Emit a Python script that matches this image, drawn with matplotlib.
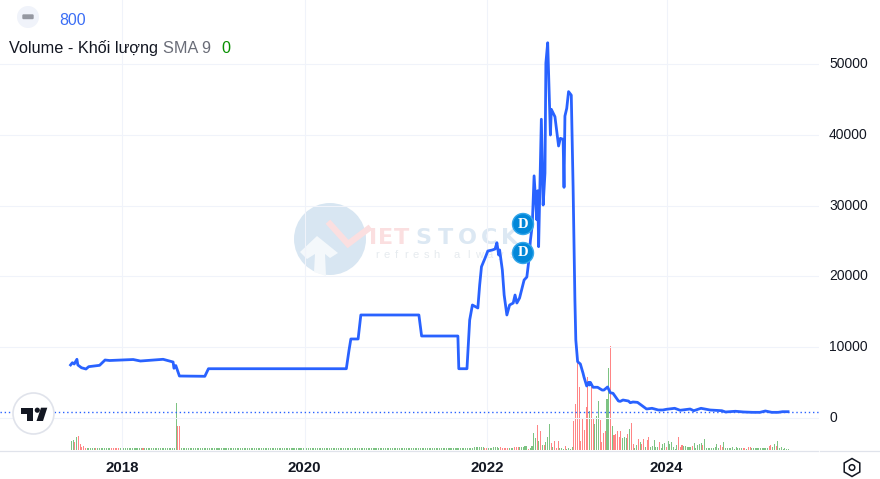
import numpy as np
import matplotlib
matplotlib.use('Agg')
import matplotlib.pyplot as plt
from matplotlib.patches import Circle, Polygon, RegularPolygon, FancyBboxPatch
from matplotlib.transforms import ScaledTranslation

plt.rcParams['font.family'] = ['Liberation Sans', 'DejaVu Sans']

# price line, decimal year / value
line_years = [2017.43, 2017.45, 2017.47, 2017.50, 2017.51, 2017.55, 2017.60, 2017.63, 2017.75, 2017.81,
              2017.86, 2018.12, 2018.20, 2018.45, 2018.56, 2018.57, 2018.59, 2018.63, 2018.91, 2018.95,
              2020.47, 2020.50, 2020.52, 2020.60, 2020.63, 2021.27, 2021.30, 2021.70, 2021.71, 2021.80,
              2021.83, 2021.86, 2021.92, 2021.94, 2021.96, 2022.00, 2022.03, 2022.08, 2022.11, 2022.13,
              2022.15, 2022.16, 2022.19, 2022.21, 2022.24, 2022.27, 2022.31, 2022.33, 2022.35, 2022.38,
              2022.43, 2022.46, 2022.48, 2022.50, 2022.52, 2022.54, 2022.57, 2022.58, 2022.59, 2022.62,
              2022.64, 2022.66, 2022.67, 2022.69, 2022.72, 2022.73, 2022.77, 2022.81, 2022.83, 2022.86,
              2022.87, 2022.88, 2022.90, 2022.92, 2022.95, 2022.97, 2022.99, 2023.00, 2023.02, 2023.05,
              2023.08, 2023.09, 2023.12, 2023.14, 2023.15, 2023.16, 2023.19, 2023.24, 2023.29, 2023.31,
              2023.35, 2023.38, 2023.41, 2023.47, 2023.49, 2023.52, 2023.58, 2023.60, 2023.63, 2023.68,
              2023.72, 2023.78, 2023.84, 2023.91, 2023.96, 2024.00, 2024.09, 2024.15, 2024.26, 2024.30,
              2024.38, 2024.48, 2024.61, 2024.65, 2024.76, 2024.85, 2024.95, 2025.03, 2025.09, 2025.16,
              2025.23, 2025.28, 2025.34]
line_values = [7490, 7810, 7630, 8290, 7490, 7100, 6920, 7250, 7440, 8190,
               8120, 8260, 8050, 8290, 7910, 7020, 7410, 5930, 5890, 6960,
               6960, 9600, 11160, 11160, 14550, 14550, 11580, 11580, 6960, 6960,
               13840, 15960, 15540, 18780, 21370, 22600, 23590, 23730, 23870, 24760,
               23020, 23730, 20900, 17370, 14550, 15960, 16240, 17370, 16240, 16950,
               19490, 19910, 22030, 25140, 27260, 34200, 28000, 32100, 24200, 42200,
               30080, 34600, 50140, 53000, 39970, 43600, 42550, 38420, 39500, 39360,
               32580, 42650, 43740, 46100, 45600, 32670, 16670, 11020, 7950, 7630,
               6310, 5790, 4520, 5040, 4660, 5040, 4340, 4340, 3950, 3950,
               4380, 3570, 3490, 2400, 2350, 2540, 2400, 2160, 2260, 2210,
               1840, 1270, 1370, 1130, 1130, 1230, 1370, 1090, 1270, 1030,
               1370, 1130, 1030, 850, 950, 850, 800, 800, 990, 800,
               800, 890, 890]
last_value = 800

# weekly volume, one row per half year
volumes = [
    9, 10, 8, 13, 14, 6, 3, 4, 2, 2, 2, 2, 2, 2, 2, 2, 2, 2, 2, 2, 2, 2, 2, 2, 2, 2,
    2, 2, 2, 2, 2, 2, 2, 2, 2, 2, 2, 2, 2, 2, 2, 2, 2, 2, 2, 2, 2, 2, 2, 2, 2, 2,
    2, 2, 2, 2, 2, 2, 2, 2, 47, 24, 24, 2, 2, 2, 2, 2, 2, 2, 2, 2, 2, 2, 2, 2, 2, 2,
    2, 2, 2, 2, 2, 2, 2, 2, 2, 2, 2, 2, 2, 2, 2, 2, 2, 2, 2, 2, 2, 2, 2, 2, 2, 2,
    2, 2, 2, 2, 2, 2, 2, 2, 2, 2, 2, 2, 2, 2, 2, 2, 2, 2, 2, 2, 2, 2, 2, 2, 2, 2,
    2, 2, 2, 2, 2, 2, 2, 2, 2, 2, 2, 2, 2, 2, 2, 2, 2, 2, 2, 2, 2, 2, 2, 2, 2, 2,
    2, 2, 2, 2, 2, 2, 2, 2, 2, 2, 2, 2, 2, 2, 2, 2, 2, 2, 2, 2, 2, 2, 2, 2, 2, 2,
    2, 2, 2, 2, 2, 2, 2, 2, 2, 2, 2, 2, 2, 2, 2, 2, 2, 2, 2, 2, 2, 2, 2, 2, 2, 2,
    2, 2, 2, 2, 2, 2, 2, 2, 2, 2, 2, 2, 2, 2, 2, 2, 2, 2, 2, 2, 2, 2, 2, 3, 3, 3,
    3, 3, 3, 2, 2, 2, 2, 2, 3, 3, 3, 2, 3, 2, 2, 2, 2, 2, 2, 2, 3, 3, 3, 3, 3, 3,
    4, 4, 1, 2, 4, 17, 12, 25, 9, 19, 5, 5, 8, 13, 26, 7, 3, 9, 2, 9, 2, 2, 1, 4, 1, 2,
    1, 3, 29, 46, 88, 63, 9, 31, 20, 43, 73, 39, 63, 31, 26, 34, 49, 30, 8, 17, 19, 51, 82, 104, 24, 15,
    16, 19, 13, 19, 12, 13, 12, 16, 21, 27, 6, 2, 5, 11, 8, 6, 11, 3, 10, 13, 3, 4, 10, 3, 3, 8,
    2, 6, 7, 3, 9, 6, 8, 3, 1, 5, 13, 3, 5, 4, 4, 3, 3, 3, 4, 7, 2, 5, 6, 7, 5, 11,
    2, 2, 2, 2, 2, 3, 6, 2, 5, 3, 8, 2, 2, 2, 2, 3, 1, 3, 2, 2, 2, 2, 2, 1, 3, 3,
    2, 2, 2, 2, 2, 2, 2, 2, 2, 2, 4, 5, 3, 6, 4, 9, 2, 3, 1, 2, 1, 1,
]
# g = up week, r = down week, same rows as volumes
vol_dirs = [
    'ggrgrrrrrgggggrggggggggrrr',
    'rrgggggggggggggrgggggggggg',
    'gggggggggrrggggggggggggggg',
    'gggggggggggggggggggggggggg',
    'gggggggggggggggggggggggggg',
    'gggggggggggggggggggggggggg',
    'gggggggggggggggggggggggggg',
    'gggggggggggggggggggggggggg',
    'gggggggggggggggggggggggggg',
    'gggrrgggggggrrrrrgggrrrggg',
    'ggrggggrgrgrgggrgrrrgggrgg',
    'ggrrrrrrrrrgrrgggrrrrggrgr',
    'rrrrgggrgrrggrgrrgrrgggggr',
    'gggrggggggrrrgggggrgggggrg',
    'ggggggggrrgggggggggggrrgrr',
    'ggggggggggrrggrggggggg',
]
vol_start = 2017.44
vol_step = 1 / 52

y_ticks = [0, 10000, 20000, 30000, 40000, 50000]
year_ticks = [2018, 2020.01, 2022.02, 2024]
year_labels = ['2018', '2020', '2022', '2024']

BLUE = '#2962ff'
GRID = '#f0f3fa'
DARK = '#131722'

fig = plt.figure(figsize=(8.8, 4.79), dpi=100, facecolor='white')
ax = fig.add_axes([0, 29 / 479, 819 / 880, 450 / 479])

# volume on its own hidden scale, under the price line
vol_ax = ax.twinx()
vol_ax.set_ylim(0, 450)
vol_ax.axis('off')
vol_ax.set_zorder(-0.5)
vol_x = vol_start + np.arange(len(volumes)) * vol_step
vol_colors = ['#7dc383' if d == 'g' else '#ff8585' for d in ''.join(vol_dirs)]
vol_ax.bar(vol_x, volumes, width=0.0115, color=vol_colors, linewidth=0)

ax.set_xlim(2016.652, 2025.681)
ax.set_ylim(-4520, 59040)
vol_ax.set_xlim(2016.652, 2025.681)
ax.set_yticks(y_ticks)
ax.set_xticks(year_ticks)
ax.set_xticklabels(year_labels, fontweight='bold', fontsize=10.8, color=DARK)
ax.yaxis.tick_right()
ax.tick_params(axis='y', length=0, pad=7.2, labelsize=10, labelcolor=DARK)
ax.tick_params(axis='x', length=0, pad=7.6)
ax.grid(True, color=GRID, lw=0.75)
ax.set_axisbelow(True)
ax.patch.set_alpha(0)
for s in ax.spines.values():
    s.set_visible(False)
# labels sit a little above their gridlines
lift = ScaledTranslation(0, 1.5 / 100, fig.dpi_scale_trans)
for lab in ax.get_yticklabels():
    lab.set_transform(lab.get_transform() + lift)

# overlay in pixel coords for logo, markers
ov = fig.add_axes([0, 0, 1, 1], facecolor='none', zorder=1)
ov.set_xlim(0, 880)
ov.set_ylim(479, 0)
ov.axis('off')

# watermark
ax_wm = fig.add_axes([0, 0, 1, 1], facecolor='none', zorder=-1)
ax_wm.set_xlim(0, 880)
ax_wm.set_ylim(479, 0)
ax_wm.axis('off')
ax_wm.add_patch(Circle((330, 239), 36, fc='#d8e6f2', ec='none'))
ax_wm.add_patch(Polygon([(300, 252), (317, 236), (338, 253), (330, 258), (325, 254),
                         (326, 276), (314, 272), (315, 254), (307, 259)], fc='#f4f8fb', ec='none'))
ax_wm.plot([330, 348, 368], [224, 244, 229], color='#fbdfe0', lw=4.5, solid_joinstyle='miter')
for ch, xc, col in zip('IETSTOCK', [373, 386, 402, 423, 445, 467, 489, 510],
                       ['#fbdfe0'] * 3 + ['#dce8f3'] * 5):
    ax_wm.text(xc, 237.5, ch, ha='center', va='center', fontsize=16, fontweight='bold', color=col,
               family=['DejaVu Sans'])
for ch, xc in zip('refresh', [377, 387, 396, 406, 416, 426, 436]):
    ax_wm.text(xc, 255, ch, ha='center', va='center', fontsize=8, color='#e6ebef')
for ch, xc in zip('always', [457, 468, 479, 490, 501, 512]):
    ax_wm.text(xc, 255, ch, ha='center', va='center', fontsize=8, color='#e6ebef')

# price line and last value dotted
ax.axhline(last_value, color=BLUE, lw=1, ls=(0, (1, 2)))
ax.plot(line_years, line_values, color=BLUE, lw=2.0, solid_joinstyle='round')

# axis lines
ov.plot([0, 818], [450.5, 450.5], color='#e0e3eb', lw=0.9)
ov.plot([820, 880], [450.5, 450.5], color='#e0e3eb', lw=0.9)

# dividend markers
for yc in [224, 253]:
    ov.add_patch(Circle((523, yc), 10.5, fc='#0288d9', ec='#35a7ea', lw=1))
    ov.text(523, yc, 'D', ha='center', va='center', color='white', fontsize=10.5,
            fontweight='bold', family=['Liberation Serif'])

# tradingview logo
ov.add_patch(Circle((33.5, 413.5), 20.5, fc='white', ec='#e0e3eb', lw=1.2))
ov.add_patch(Polygon([(20.7, 407.7), (33.3, 407.7), (33.3, 421), (26.7, 421), (26.7, 414), (20.7, 414)],
                     fc=DARK, ec='none'))
ov.add_patch(Circle((37.3, 410.2), 2.6, fc=DARK, ec='none'))
ov.add_patch(Polygon([(47.3, 407.7), (41, 407.7), (36.5, 421), (43, 421)], fc=DARK, ec='none'))

# legend
ov.add_patch(Circle((28, 17), 11, fc='#f0f3fa', ec='none'))
ov.add_patch(FancyBboxPatch((23.5, 15.5), 9, 2.5, boxstyle='round,pad=1.2', fc='#9598a1', ec='none'))
ov.text(59, 20, '800', color='#3b6ef5', fontsize=11.4, va='center', ha='left')
ov.text(9, 48, 'Volume - Khối lượng', color=DARK, fontsize=11.7, va='center', ha='left')
ov.text(163, 48, 'SMA 9', color='#6a6d78', fontsize=11.7, va='center', ha='left')
ov.text(221, 48, '0', color='#089000', fontsize=11.7, va='center', ha='left')

# settings icon
ov.add_patch(RegularPolygon((852, 467.5), 6, radius=9, fc='white', ec=DARK, lw=1.1))
ov.add_patch(Circle((852, 467.5), 2.8, fc='white', ec=DARK, lw=1.1))

fig.savefig('out.png', dpi=100)
